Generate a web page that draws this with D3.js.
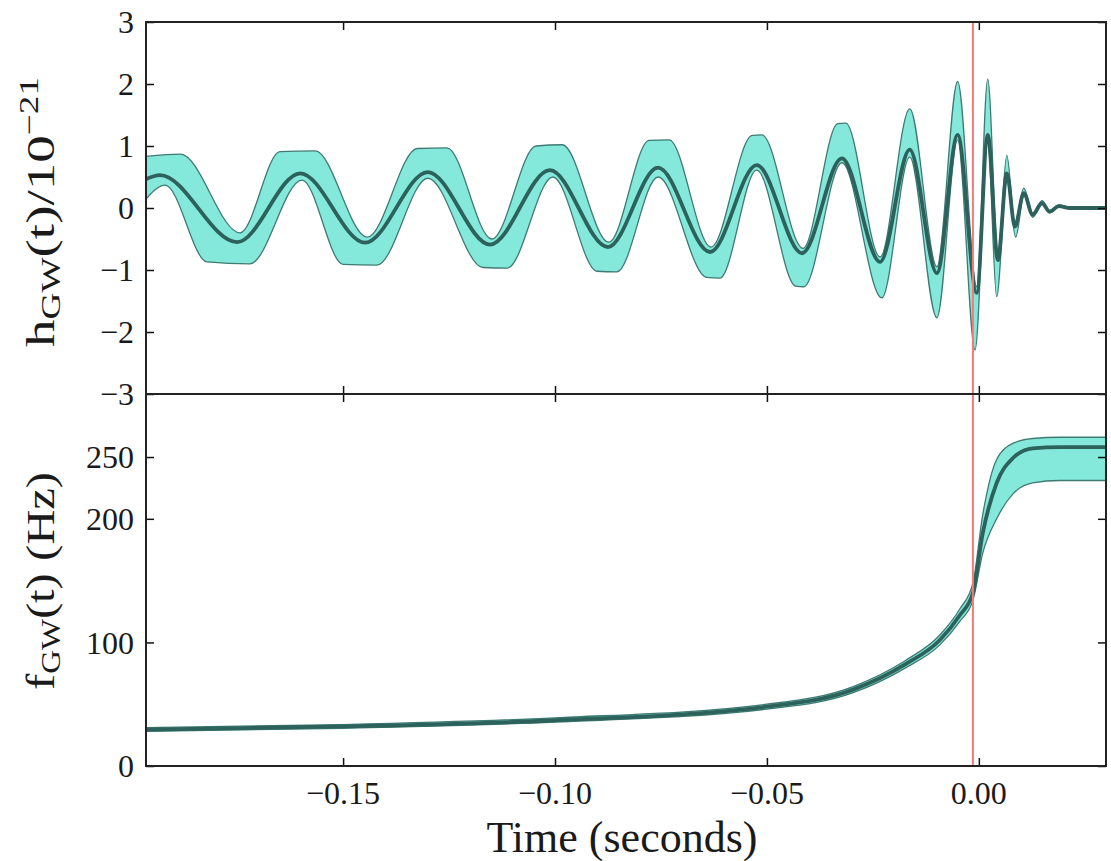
<!DOCTYPE html>
<html>
<head>
<meta charset="utf-8">
<script src="https://cdn.jsdelivr.net/npm/d3@7"></script>
<style>
  body { margin: 0; background: #fff; }
  text { font-family: "Liberation Serif", "DejaVu Serif", serif; fill: #1a1a1a; }
</style>
</head>
<body>
<svg id="chart" width="1111" height="861"></svg>
<script>
"use strict";

// strain h(t) in units of 1e-21 at the extrema
var hTimes = [-0.1967, -0.1932, -0.1750, -0.1601, -0.1448, -0.1300, -0.1153, -0.1012, -0.0875, -0.0757,
              -0.0634, -0.0524, -0.0417, -0.0323, -0.0233, -0.0163, -0.0099, -0.0050, -0.0005, 0.0021,
              0.0045, 0.0066, 0.0085, 0.0106, 0.0127, 0.0149, 0.0167, 0.0189, 0.0215, 0.0300];
var hMid = [0.46, 0.53, -0.55, 0.56, -0.56, 0.58, -0.59, 0.61, -0.63, 0.65,
            -0.71, 0.69, -0.73, 0.80, -0.87, 0.94, -1.05, 1.18, -1.37, 1.18,
            -0.84, 0.56, -0.30, 0.24, -0.11, 0.08, -0.06, 0.03, 0.00, 0.00];

// upper edge of the band
var hUpTimes = [-0.1967, -0.1884, -0.1743, -0.1649, -0.1566, -0.1443, -0.1325, -0.1255, -0.1149, -0.1045,
                -0.0983, -0.0873, -0.0778, -0.0731, -0.0632, -0.0535, -0.0512, -0.0415, -0.0333, -0.0314,
                -0.0233, -0.0163, -0.0099, -0.0050, -0.0005, 0.0021, 0.0045, 0.0066, 0.0085, 0.0106,
                0.0127, 0.0149, 0.0167, 0.0189, 0.0215, 0.0300];
var hUp = [0.83, 0.87, -0.40, 0.91, 0.92, -0.47, 0.96, 0.97, -0.50, 1.00,
           1.02, -0.55, 1.09, 1.10, -0.63, 1.17, 1.18, -0.65, 1.36, 1.37,
           -0.79, 1.60, -0.95, 2.04, -1.27, 2.08, -0.73, 0.85, -0.25, 0.32,
           -0.08, 0.12, -0.04, 0.05, 0.01, 0.01];

// lower edge of the band
var hLoTimes = [-0.1967, -0.1920, -0.1821, -0.1720, -0.1597, -0.1500, -0.1420, -0.1300, -0.1170, -0.1113,
                -0.1005, -0.0901, -0.0854, -0.0757, -0.0642, -0.0611, -0.0524, -0.0432, -0.0413, -0.0323,
                -0.0229, -0.0163, -0.0099, -0.0050, -0.0009, 0.0021, 0.0042, 0.0066, 0.0087, 0.0106,
                0.0127, 0.0149, 0.0167, 0.0189, 0.0215, 0.0300];
var hLo = [0.13, 0.37, -0.87, -0.90, 0.45, -0.91, -0.92, 0.48, -0.96, -0.97,
           0.50, -1.02, -1.03, 0.50, -1.12, -1.13, 0.61, -1.26, -1.27, 0.73,
           -1.45, 0.82, -1.77, 1.10, -2.29, 1.10, -1.43, 0.45, -0.47, 0.20,
           -0.15, 0.06, -0.08, 0.02, -0.01, -0.01];

// gravitational-wave frequency in Hz
var fTimes = [-0.1967, -0.1500, -0.1000, -0.0500, -0.0295, -0.0175, -0.0092, -0.0045, -0.0014, 0.0009,
              0.0042, 0.0080, 0.0127, 0.0191, 0.0300];
var fMid = [29.5, 32, 37, 48, 62, 82, 102, 122, 140, 188, 229, 249, 257, 258, 258];
var fUp  = [31, 33.5, 39, 50, 64.5, 85, 106, 127, 148, 203, 248, 261, 265, 266, 266];
var fLo  = [28, 30.5, 35.5, 46, 59.5, 79, 98, 117, 134, 172, 200, 220, 229, 231, 231];

var hTicks = [-3, -2, -1, 0, 1, 2, 3];
var fTicks = [0, 100, 200, 250];
var tTicks = [-0.15, -0.10, -0.05, 0.00];
var peakTime = -0.0014;

var svg = d3.select("#chart");
var left = 146, right = 1106, top1 = 22, mid = 394, bottom = 766;
var tickLen = 8;

var x = d3.scaleLinear().domain([-0.1965, 0.0300]).range([left, right]);
var yH = d3.scaleLinear().domain([-3, 3]).range([mid, top1]);
var yF = d3.scaleLinear().domain([0, 301]).range([bottom, mid]);

var bandFill = "#84e8db";
var bandEdge = "#3f7a73";
var midColor = "#2c615c";

svg.append("defs").selectAll("clipPath")
  .data([["clipTop", top1, mid], ["clipBot", mid, bottom]])
  .enter().append("clipPath")
    .attr("id", function(d) { return d[0]; })
  .append("rect")
    .attr("x", left).attr("y", function(d) { return d[1]; })
    .attr("width", right - left).attr("height", function(d) { return d[2] - d[1]; });

// closed band from two edges sampled at different times
function bandPath(tu, vu, tl, vl, y) {
  var line = d3.line()
    .curve(d3.curveMonotoneX)
    .x(function(d) { return x(d[0]); })
    .y(function(d) { return y(d[1]); });
  var up = line(d3.zip(tu, vu));
  var lo = line(d3.zip(tl, vl).reverse());
  return up + "L" + lo.slice(1) + "Z";
}

function midPath(t, v, y) {
  return d3.line()
    .curve(d3.curveMonotoneX)
    .x(function(d) { return x(d[0]); })
    .y(function(d) { return y(d[1]); })(d3.zip(t, v));
}

var gTop = svg.append("g").attr("clip-path", "url(#clipTop)");
gTop.append("path")
  .attr("d", bandPath(hUpTimes, hUp, hLoTimes, hLo, yH))
  .attr("fill", bandFill)
  .attr("stroke", bandEdge)
  .attr("stroke-width", 1.3);
gTop.append("path")
  .attr("d", midPath(hTimes, hMid, yH))
  .attr("fill", "none")
  .attr("stroke", midColor)
  .attr("stroke-width", 3.8);

var gBot = svg.append("g").attr("clip-path", "url(#clipBot)");
gBot.append("path")
  .attr("d", bandPath(fTimes, fUp, fTimes, fLo, yF))
  .attr("fill", bandFill)
  .attr("stroke", bandEdge)
  .attr("stroke-width", 1.3);
gBot.append("path")
  .attr("d", midPath(fTimes, fMid, yF))
  .attr("fill", "none")
  .attr("stroke", midColor)
  .attr("stroke-width", 3.8);

// red marker at the peak
svg.append("line")
  .attr("x1", x(peakTime)).attr("x2", x(peakTime))
  .attr("y1", top1).attr("y2", bottom)
  .attr("stroke", "#f47a7a")
  .attr("stroke-width", 2);

// ticks on all four sides, pointing inwards
function frame(y, ticks, yTop, yBottom) {
  var g = svg.append("g");
  g.append("g")
    .attr("transform", "translate(" + left + ",0)")
    .call(d3.axisLeft(y).tickValues(ticks).tickSizeInner(-tickLen).tickSizeOuter(0).tickFormat(""));
  g.append("g")
    .attr("transform", "translate(" + right + ",0)")
    .call(d3.axisRight(y).tickValues(ticks).tickSizeInner(-tickLen).tickSizeOuter(0).tickFormat(""));
  g.append("g")
    .attr("transform", "translate(0," + yTop + ")")
    .call(d3.axisTop(x).tickValues(tTicks).tickSizeInner(-tickLen).tickSizeOuter(0).tickFormat(""));
  g.append("g")
    .attr("transform", "translate(0," + yBottom + ")")
    .call(d3.axisBottom(x).tickValues(tTicks).tickSizeInner(-tickLen).tickSizeOuter(0).tickFormat(""));
  g.selectAll(".domain").remove();
  g.selectAll(".tick line").attr("stroke", "#111").attr("stroke-width", 1.5);
  g.append("rect")
    .attr("x", left).attr("y", yTop)
    .attr("width", right - left).attr("height", yBottom - yTop)
    .attr("fill", "none")
    .attr("stroke", "#222")
    .attr("stroke-width", 2);

  g.selectAll(".ylab")
    .data(ticks)
    .enter().append("text")
      .attr("x", left - 12)
      .attr("y", function(d) { return y(d); })
      .attr("dy", "0.35em")
      .attr("text-anchor", "end")
      .attr("font-size", 32)
      .text(function(d) { return d < 0 ? "\u2212" + Math.abs(d) : d; });
}

frame(yH, hTicks, top1, mid);
frame(yF, fTicks, mid, bottom);

svg.selectAll(".xlab")
  .data(tTicks)
  .enter().append("text")
    .attr("x", function(d) { return x(d); })
    .attr("y", bottom + 38)
    .attr("text-anchor", "middle")
    .attr("font-size", 32)
    .text(function(d) { return d < 0 ? "\u2212" + Math.abs(d).toFixed(2) : d.toFixed(2); });

svg.append("text")
  .attr("x", (left + right) / 2 - 4)
  .attr("y", 852)
  .attr("text-anchor", "middle")
  .attr("font-size", 44)
  .text("Time (seconds)");

// y labels with subscripts/superscripts, stretched along the text like the original
var hLab = svg.append("text")
  .attr("transform", "translate(54,212) rotate(-90)")
  .attr("text-anchor", "middle")
  .attr("font-size", 40)
  .attr("textLength", 270)
  .attr("lengthAdjust", "spacingAndGlyphs");
hLab.append("tspan").text("h");
hLab.append("tspan").attr("font-size", 27).attr("dy", 6).text("GW");
hLab.append("tspan").attr("dy", -6).text("(t)/10");
hLab.append("tspan").attr("font-size", 27).attr("dy", -16).text("\u221221");

var fLab = svg.append("text")
  .attr("transform", "translate(54,581) rotate(-90)")
  .attr("text-anchor", "middle")
  .attr("font-size", 40)
  .attr("textLength", 218)
  .attr("lengthAdjust", "spacingAndGlyphs");
fLab.append("tspan").text("f");
fLab.append("tspan").attr("font-size", 27).attr("dy", 6).text("GW");
fLab.append("tspan").attr("dy", -6).text("(t) (Hz)");
</script>
</body>
</html>
